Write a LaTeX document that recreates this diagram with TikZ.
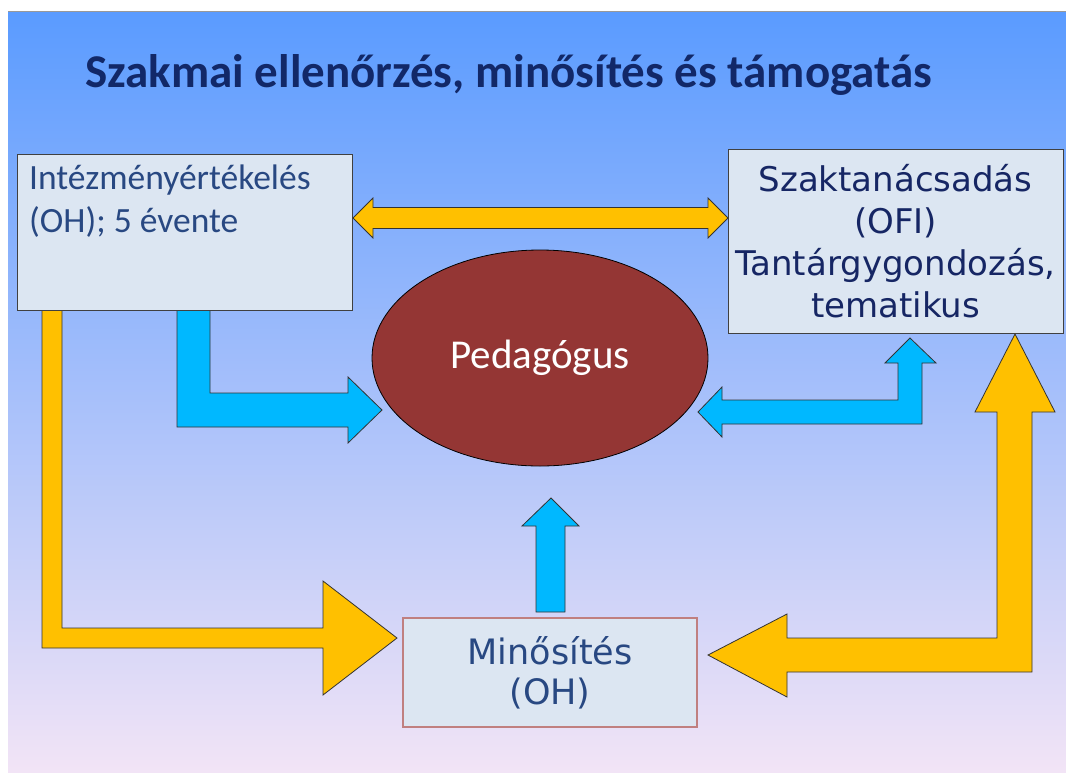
\documentclass[tikz,border=0pt]{standalone}
\usepackage{fontspec}
\setmainfont{Carlito}
\newfontfamily\verd{DejaVu Sans}
\usetikzlibrary{shapes.geometric}
\definecolor{bgtop}{RGB}{90,155,255}
\definecolor{bgmid}{RGB}{165,202,242}
\definecolor{bgbot}{RGB}{242,228,246}
\definecolor{boxfill}{RGB}{220,230,242}
\definecolor{boxline}{RGB}{64,64,64}
\definecolor{pinkline}{RGB}{192,128,128}
\definecolor{titlecol}{RGB}{18,40,104}
\definecolor{navy}{RGB}{22,38,100}
\definecolor{midblue}{RGB}{40,72,130}
\definecolor{arryellow}{RGB}{255,192,0}
\definecolor{arrblue}{RGB}{0,184,255}
\definecolor{pedred}{RGB}{148,54,52}
\begin{document}
\begin{tikzpicture}[x=1pt,y=-1pt,
  box/.style={draw=boxline, line width=0.9pt, fill=boxfill, inner sep=0pt},
  yarrow/.style={fill=arryellow, draw=black!80, line width=0.8pt, line join=miter},
  barrow/.style={fill=arrblue, draw=black!80, line width=0.8pt, line join=miter},
  titletext/.style={font=\bfseries\fontsize{47}{54}\selectfont, text=titlecol, inner sep=0pt},
  verdtext/.style={font=\verd\fontsize{34}{42}\selectfont, align=center}]
\useasboundingbox (0,0) rectangle (1066,772);
\fill[white] (0,0) rectangle (1066,772);
\shade[top color=bgtop, middle color=bgmid, bottom color=bgbot] (8,11) rectangle (1066,772);
\draw[black!40, line width=1pt] (8,11) -- (1066,11);

\node[titletext, anchor=base west] (title) at (85,87) {Szakmai ellenőrzés, minősítés és támogatás};

% ellipse
\node[ellipse, draw=black, line width=0.8pt, fill=pedred, minimum width=336pt, minimum height=216pt,
      text=white, font=\fontsize{41}{48}\selectfont] (ped) at (540,358) {Pedagógus};

% block arrows
\draw[yarrow] (42,310) -- (62,310) -- (62,628) -- (323,628) -- (323,581) -- (397,638) -- (323,695) -- (323,648) -- (42,648) -- cycle;
\draw[yarrow] (1015,334) -- (1055,412) -- (1032,412) -- (1032,672) -- (787,672) -- (787,697) -- (708,655) -- (787,614) -- (787,638) -- (997,638) -- (997,412) -- (975,412) -- cycle;
\draw[yarrow] (353,218) -- (373,198) -- (373,207.5) -- (708,207.5) -- (708,198) -- (728,218) -- (708,238) -- (708,228.5) -- (373,228.5) -- (373,238) -- cycle;
\draw[barrow] (177,310) -- (210,310) -- (210,393) -- (348,393) -- (348,377) -- (382,410) -- (348,443) -- (348,427) -- (177,427) -- cycle;
\draw[barrow] (698,412) -- (722,387) -- (722,400) -- (898,400) -- (898,363) -- (885,363) -- (910,338) -- (936,363) -- (922,363) -- (922,424) -- (722,424) -- (722,437) -- cycle;
\draw[barrow] (536,612) -- (536,526) -- (522,526) -- (551,498) -- (579,526) -- (565,526) -- (565,612) -- cycle;

% boxes
\node[box, minimum width=335pt, minimum height=156pt] (inst) at (184.5,232) {};
\node[anchor=north west, inner sep=0pt, align=left, text=midblue,
      font=\fontsize{35.5}{43}\selectfont] (insttext) at (29,165) {Intézményértékelés\\(OH); 5 évente};
\node[box, verdtext, text=navy, minimum width=335pt, minimum height=184pt] (szak) at (895.5,241)
  {Szaktanácsadás\\(OFI)\\Tantárgygondozás,\\tematikus};
\node[box, draw=pinkline, line width=1.2pt, verdtext, font=\verd\fontsize{35}{40}\selectfont, text=midblue, minimum width=294pt, minimum height=109pt] (min) at (550,672.5)
  {Minősítés\\(OH)};
\end{tikzpicture}
\end{document}
